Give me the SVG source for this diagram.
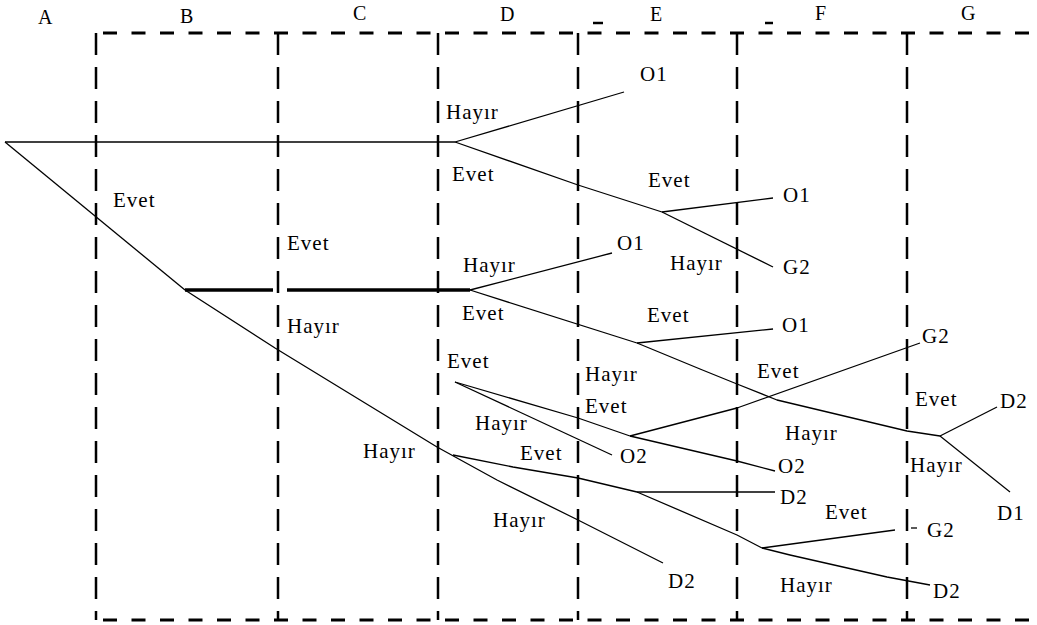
<svg xmlns="http://www.w3.org/2000/svg" width="1037" height="625" viewBox="0 0 1037 625">
<style>
.hd{stroke:#000;stroke-width:3;stroke-dasharray:14 14.5;fill:none}
.vd{stroke:#000;stroke-width:2.5;stroke-dasharray:22 12;fill:none}
.ln{stroke:#000;stroke-width:1.3;fill:none;stroke-linejoin:round}
.thick{stroke:#000;stroke-width:3.5;fill:none}
text{font-family:"Liberation Serif","Times New Roman",serif;fill:#000}
.lb{font-size:21px;letter-spacing:1px}
.col{font-size:20px}
</style>
<rect width="1037" height="625" fill="#fff"/>
<g id="frame">
<line class="hd" x1="96" y1="33" x2="1037" y2="33" stroke-dashoffset="-7"/>
<line class="hd" x1="96" y1="620" x2="1037" y2="620" stroke-dashoffset="-7"/>
<line class="vd" x1="96" y1="33" x2="96" y2="620"/>
<line class="vd" x1="278" y1="33" x2="278" y2="620"/>
<line class="vd" x1="438" y1="33" x2="438" y2="620"/>
<line class="vd" x1="578" y1="33" x2="578" y2="620"/>
<line class="vd" x1="737" y1="33" x2="737" y2="620"/>
<line class="vd" x1="907" y1="33" x2="907" y2="620"/>
<line x1="593" y1="23" x2="603" y2="23" stroke="#000" stroke-width="2.5"/>
<line x1="765" y1="23" x2="773" y2="23" stroke="#000" stroke-width="2.5"/>
</g>
<g id="columns" class="col">
<text x="38" y="24">A</text>
<text x="180" y="23">B</text>
<text x="353" y="20">C</text>
<text x="500" y="21">D</text>
<text x="650" y="21">E</text>
<text x="815" y="20">F</text>
<text x="961" y="20">G</text>
</g>
<g id="connectors">
<polyline class="ln" points="5,142 455,142"/>
<polyline class="ln" points="455,142 624,92"/>
<polyline class="ln" points="455,142 578,185 662,212"/>
<polyline class="ln" points="662,212 773,198"/>
<polyline class="ln" points="662,212 773,267"/>
<polyline class="ln" points="5,142 185,290"/>
<line class="thick" x1="185" y1="290" x2="273" y2="290"/>
<line class="thick" x1="287" y1="290" x2="470" y2="290"/>
<polyline class="ln" points="470,290 612,253"/>
<polyline class="ln" points="470,290 637,343"/>
<polyline class="ln" points="637,343 773,329"/>
<polyline class="ln" points="637,343 700,369 737,384 777,400 907,431 940,436"/>
<polyline class="ln" points="940,436 997,407"/>
<polyline class="ln" points="940,436 1010,492"/>
<polyline class="ln" points="185,290 275,348 437,447 497,480 578,520 663,563"/>
<polyline class="ln" points="453,455 513,467 578,478 637,492"/>
<polyline class="ln" points="637,492 775,492"/>
<polyline class="ln" points="637,492 737,535 762,548"/>
<polyline class="ln" points="762,548 895,530"/>
<line class="ln" x1="911" y1="528" x2="917" y2="528"/>
<polyline class="ln" points="762,548 790,555 887,577 930,585"/>
<polyline class="ln" points="455,382 578,418 630,436"/>
<polyline class="ln" points="630,436 737,461 775,471"/>
<polyline class="ln" points="630,436 737,408 920,343"/>
<polyline class="ln" points="455,382 612,455"/>
</g>
<g id="labels" class="lb">
<g id="n1"><text x="446" y="119">Hayır</text></g>
<g id="n2"><text x="452" y="181">Evet</text></g>
<g id="n3"><text x="640" y="81">O1</text></g>
<g id="n4"><text x="648" y="187">Evet</text></g>
<g id="n5"><text x="783" y="202">O1</text></g>
<g id="n6"><text x="670" y="270">Hayır</text></g>
<g id="n7"><text x="783" y="274">G2</text></g>
<g id="n8"><text x="113" y="207">Evet</text></g>
<g id="n9"><text x="287" y="250">Evet</text></g>
<g id="n10"><text x="287" y="333">Hayır</text></g>
<g id="n11"><text x="463" y="272">Hayır</text></g>
<g id="n12"><text x="617" y="250">O1</text></g>
<g id="n13"><text x="462" y="320">Evet</text></g>
<g id="n14"><text x="647" y="322">Evet</text></g>
<g id="n15"><text x="782" y="332">O1</text></g>
<g id="n16"><text x="757" y="378">Evet</text></g>
<g id="n17"><text x="922" y="343">G2</text></g>
<g id="n18"><text x="915" y="406">Evet</text></g>
<g id="n19"><text x="1000" y="408">D2</text></g>
<g id="n20"><text x="785" y="440">Hayır</text></g>
<g id="n21"><text x="910" y="472">Hayır</text></g>
<g id="n22"><text x="778" y="473">O2</text></g>
<g id="n23"><text x="780" y="504">D2</text></g>
<g id="n24"><text x="997" y="520">D1</text></g>
<g id="n25"><text x="825" y="519">Evet</text></g>
<g id="n26"><text x="927" y="537">G2</text></g>
<g id="n27"><text x="780" y="592">Hayır</text></g>
<g id="n28"><text x="933" y="598">D2</text></g>
<g id="n29"><text x="585" y="381">Hayır</text></g>
<g id="n30"><text x="585" y="413">Evet</text></g>
<g id="n31"><text x="447" y="368">Evet</text></g>
<g id="n32"><text x="475" y="430">Hayır</text></g>
<g id="n33"><text x="520" y="460">Evet</text></g>
<g id="n34"><text x="620" y="463">O2</text></g>
<g id="n35"><text x="363" y="458">Hayır</text></g>
<g id="n36"><text x="493" y="527">Hayır</text></g>
<g id="n37"><text x="668" y="588">D2</text></g>
</g>
</svg>
